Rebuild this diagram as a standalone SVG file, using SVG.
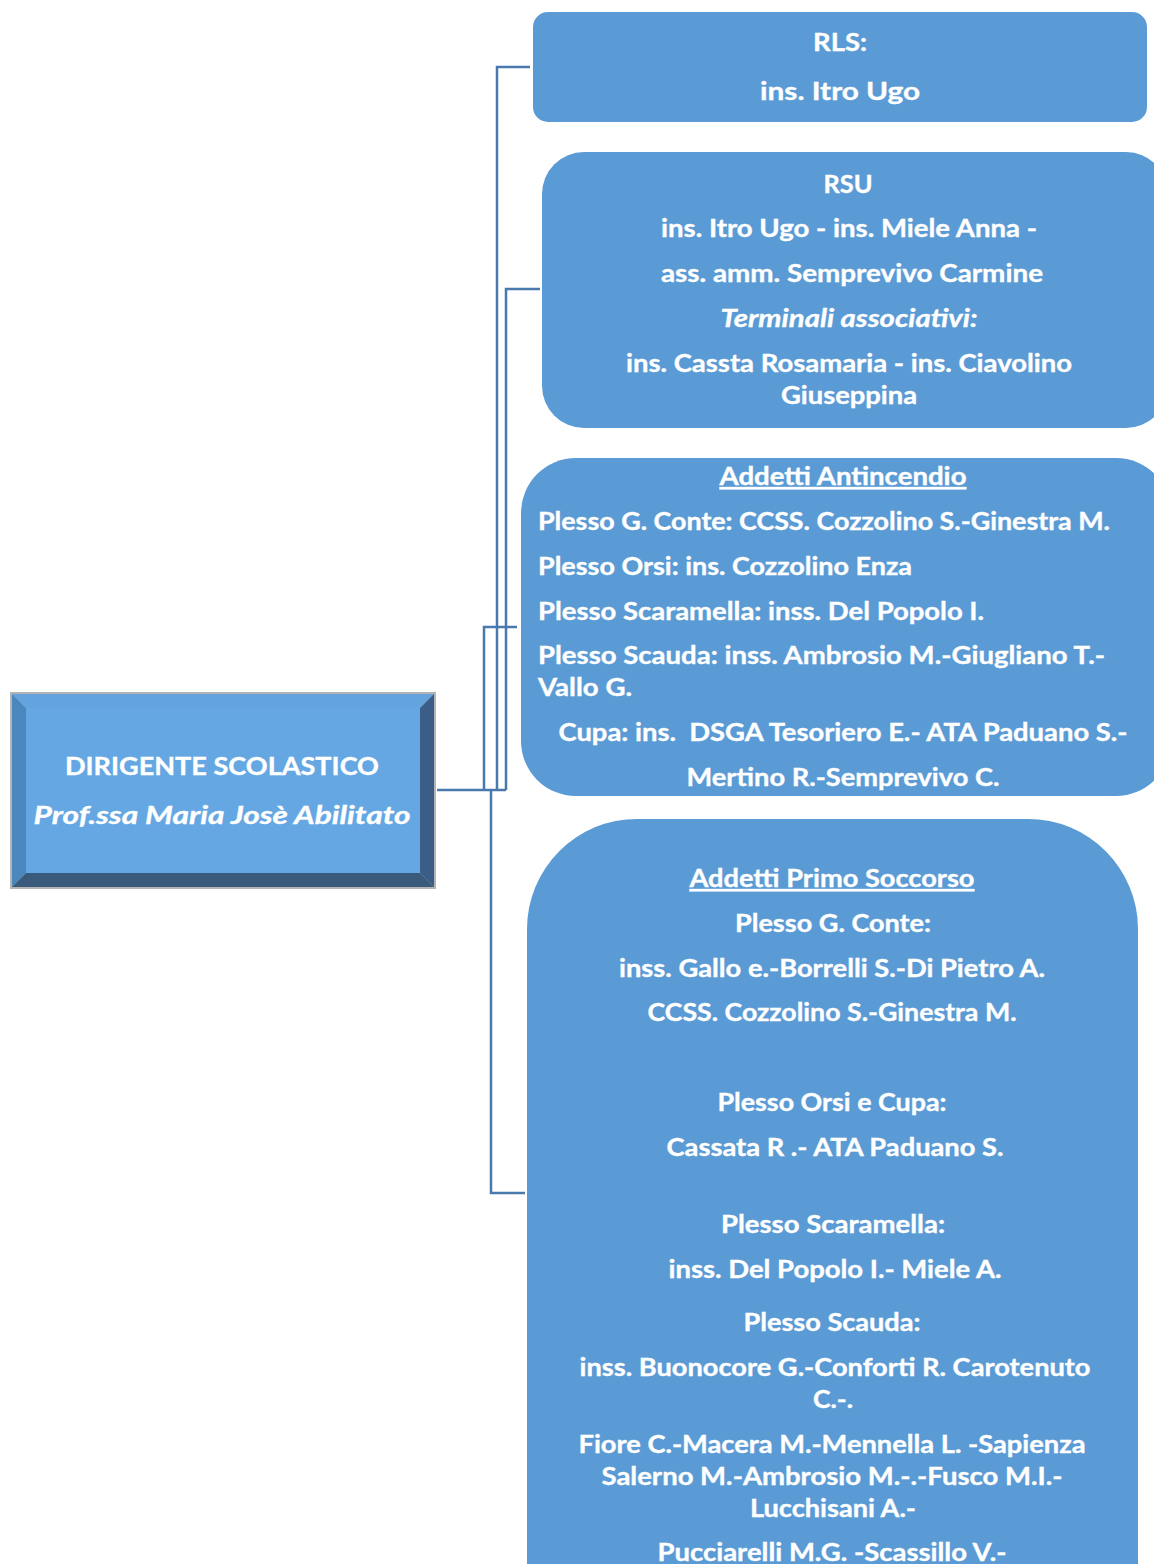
<svg xmlns="http://www.w3.org/2000/svg" width="1154" height="1564" viewBox="0 0 1154 1564">
<style>
.box{fill:#5b9bd5;}
.t{font-family:Lato,"Open Sans","Liberation Sans",sans-serif;font-weight:bold;font-size:24px;fill:#ffffff;stroke:#ffffff;stroke-width:0.35px;}
.c{text-anchor:middle;}
.i{font-style:italic;}
.u{text-decoration:underline;}
.conn{fill:none;stroke:#4a7aad;stroke-width:2.5;}
</style>
<rect width="1154" height="1564" fill="#ffffff"/>
<g id="connectors">
<polyline class="conn" points="437,790 506,790"/>
<polyline class="conn" points="530,67 497,67 497,790"/>
<polyline class="conn" points="540,289 506,289 506,790"/>
<polyline class="conn" points="517,627 484,627 484,790"/>
<polyline class="conn" points="491,790 491,1193 525,1193"/>
</g>
<g id="dirigente">
<rect x="10" y="692" width="426" height="197" fill="#b4b4b4"/>
<polygon points="12,694 434,694 420,708 26,708" fill="#63a3de"/>
<polygon points="12,694 26,708 26,873 12,887" fill="#4b87bf"/>
<polygon points="434,694 434,887 420,873 420,708" fill="#3a5e87"/>
<polygon points="12,887 26,873 420,873 434,887" fill="#3a5a7b"/>
<rect x="26" y="708" width="394" height="165" fill="#65a7e2"/>
<text class="t c" x="222" y="775" font-size="26" textLength="314" lengthAdjust="spacingAndGlyphs">DIRIGENTE SCOLASTICO</text>
<text class="t c i" x="222" y="824" font-size="26" textLength="377" lengthAdjust="spacingAndGlyphs">Prof.ssa Maria Josè Abilitato</text>
</g>
<g id="rls">
<rect class="box" x="533" y="12" width="614" height="110" rx="15"/>
<text class="t c" x="840" y="51" textLength="54" lengthAdjust="spacingAndGlyphs">RLS:</text>
<text class="t c" x="840" y="100" textLength="160" lengthAdjust="spacingAndGlyphs">ins. Itro Ugo</text>
</g>
<g id="rsu">
<rect class="box" x="542" y="152" width="626" height="276" rx="42"/>
<text class="t c" x="848" y="193" textLength="49" lengthAdjust="spacingAndGlyphs">RSU</text>
<text class="t c" x="849" y="237" textLength="376" lengthAdjust="spacingAndGlyphs">ins. Itro Ugo - ins. Miele Anna -</text>
<text class="t c" x="852" y="282" textLength="382" lengthAdjust="spacingAndGlyphs">ass. amm. Semprevivo Carmine</text>
<text class="t c i" x="849" y="327" textLength="257" lengthAdjust="spacingAndGlyphs">Terminali associativi:</text>
<text class="t c" x="849" y="372" textLength="446" lengthAdjust="spacingAndGlyphs">ins. Cassta Rosamaria - ins. Ciavolino</text>
<text class="t c" x="849" y="404" textLength="136" lengthAdjust="spacingAndGlyphs">Giuseppina</text>
</g>
<g id="antincendio">
<rect class="box" x="521" y="458" width="650" height="338" rx="55"/>
<text class="t c u" x="843" y="485" textLength="247" lengthAdjust="spacingAndGlyphs">Addetti Antincendio</text>
<text class="t" x="538" y="530" textLength="572" lengthAdjust="spacingAndGlyphs">Plesso G. Conte: CCSS. Cozzolino S.-Ginestra M.</text>
<text class="t" x="538" y="575" textLength="374" lengthAdjust="spacingAndGlyphs">Plesso Orsi: ins. Cozzolino Enza</text>
<text class="t" x="538" y="620" textLength="446" lengthAdjust="spacingAndGlyphs">Plesso Scaramella: inss. Del Popolo I.</text>
<text class="t" x="538" y="664" textLength="567" lengthAdjust="spacingAndGlyphs">Plesso Scauda: inss. Ambrosio M.-Giugliano T.-</text>
<text class="t" x="538" y="696" textLength="94" lengthAdjust="spacingAndGlyphs">Vallo G.</text>
<text class="t c" x="843" y="741" textLength="569" lengthAdjust="spacingAndGlyphs" xml:space="preserve">Cupa: ins.  DSGA Tesoriero E.- ATA Paduano S.-</text>
<text class="t c" x="843" y="786" textLength="313" lengthAdjust="spacingAndGlyphs">Mertino R.-Semprevivo C.</text>
</g>
<g id="primo-soccorso">
<rect class="box" x="527" y="819" width="611" height="860" rx="110"/>
<text class="t c u" x="832" y="887" textLength="285" lengthAdjust="spacingAndGlyphs">Addetti Primo Soccorso</text>
<text class="t c" x="833" y="932" textLength="196" lengthAdjust="spacingAndGlyphs">Plesso G. Conte:</text>
<text class="t c" x="832" y="977" textLength="426" lengthAdjust="spacingAndGlyphs">inss. Gallo e.-Borrelli S.-Di Pietro A.</text>
<text class="t c" x="832" y="1021" textLength="369" lengthAdjust="spacingAndGlyphs">CCSS. Cozzolino S.-Ginestra M.</text>
<text class="t c" x="832" y="1111" textLength="229" lengthAdjust="spacingAndGlyphs">Plesso Orsi e Cupa:</text>
<text class="t c" x="835" y="1156" textLength="337" lengthAdjust="spacingAndGlyphs">Cassata R .- ATA Paduano S.</text>
<text class="t c" x="833" y="1233" textLength="224" lengthAdjust="spacingAndGlyphs">Plesso Scaramella:</text>
<text class="t c" x="835" y="1278" textLength="333" lengthAdjust="spacingAndGlyphs">inss. Del Popolo I.- Miele A.</text>
<text class="t c" x="832" y="1331" textLength="177" lengthAdjust="spacingAndGlyphs">Plesso Scauda:</text>
<text class="t c" x="835" y="1376" textLength="511" lengthAdjust="spacingAndGlyphs">inss. Buonocore G.-Conforti R. Carotenuto</text>
<text class="t c" x="833" y="1408" textLength="40" lengthAdjust="spacingAndGlyphs">C.-.</text>
<text class="t c" x="832" y="1453" textLength="507" lengthAdjust="spacingAndGlyphs">Fiore C.-Macera M.-Mennella L. -Sapienza</text>
<text class="t c" x="832" y="1485" textLength="461" lengthAdjust="spacingAndGlyphs">Salerno M.-Ambrosio M.-.-Fusco M.I.-</text>
<text class="t c" x="833" y="1517" textLength="166" lengthAdjust="spacingAndGlyphs">Lucchisani A.-</text>
<text class="t c" x="832" y="1561" textLength="349" lengthAdjust="spacingAndGlyphs">Pucciarelli M.G. -Scassillo V.-</text>
</g>
</svg>
